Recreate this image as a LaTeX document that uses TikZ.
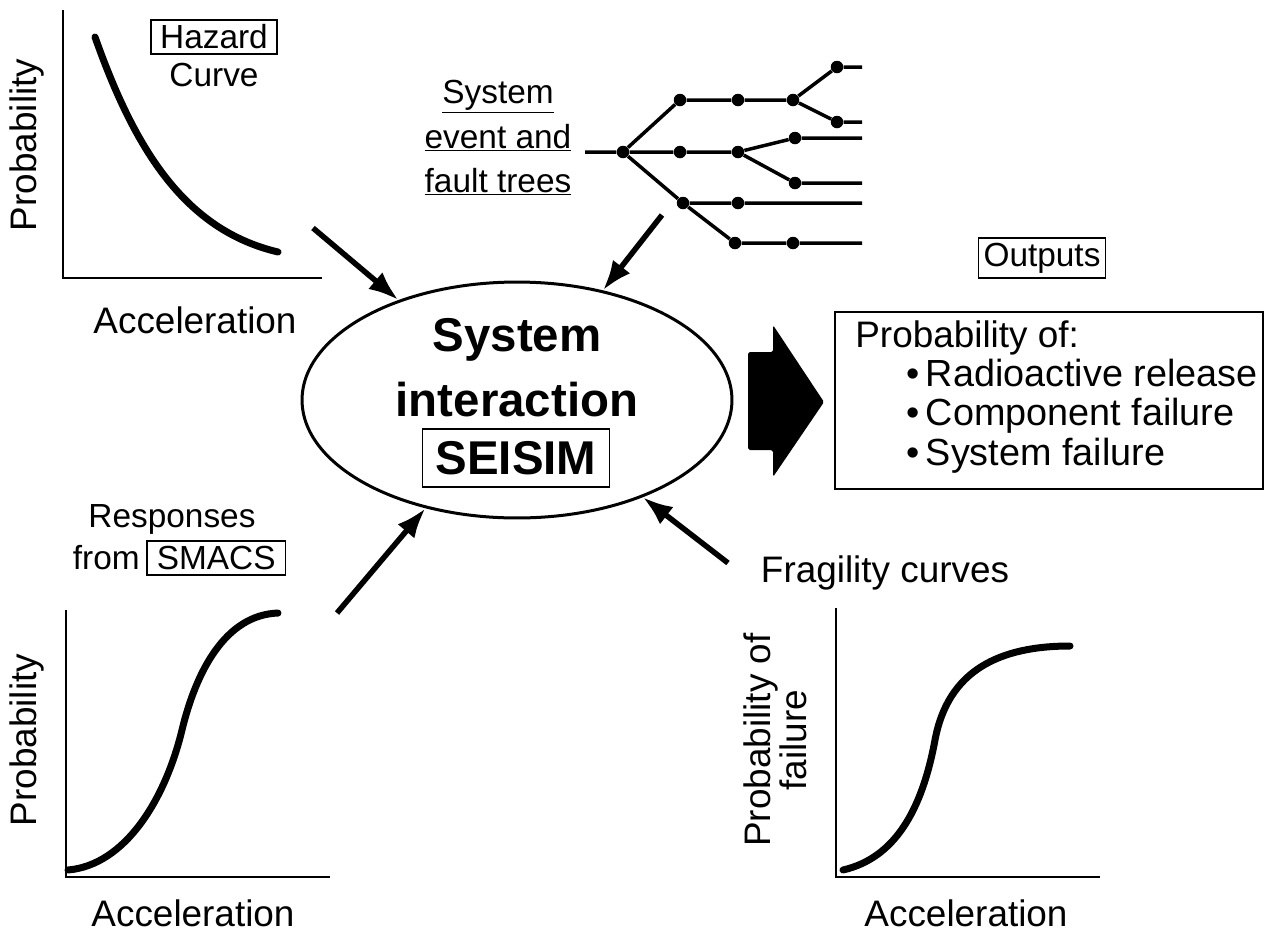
\documentclass[tikz,border=0pt]{standalone}
\usepackage{fontspec}
\setmainfont{Liberation Sans}
\usetikzlibrary{arrows.meta, positioning, shapes.geometric}

\begin{document}
\begin{tikzpicture}[
  x=0.02cm, y=-0.02cm,
  axis/.style={line width=0.04cm},
  curve/.style={line width=0.14cm, line cap=round},
  branch/.style={line width=0.07cm},
  dot/.style={circle, fill=black, inner sep=0pt, minimum size=0.25cm},
  arr/.style={-{Latex[length=0.6cm, width=0.44cm]}, line width=0.11cm},
  lbl/.style={font=\fontsize{21}{25}\selectfont, inner sep=0pt},
  note/.style={font=\fontsize{19}{22}\selectfont, inner sep=0pt},
  tag/.style={draw, line width=0.035cm, font=\fontsize{19}{22}\selectfont,
              inner xsep=0.18cm, inner ysep=0.12cm},
  big/.style={font=\fontsize{27}{32}\selectfont\bfseries, inner sep=0pt}
]
  \useasboundingbox (0,0) rectangle (1265,934);

  % Hazard curve
  \draw[axis] (63,10) -- (63,278) -- (322,278);
  \draw[curve] (95,37) .. controls (135,150) and (185,230) .. (278,252);
  \node[lbl, rotate=90] (hzy) at (27,145) {Probability};
  \node[lbl] (hzx) at (195,320) {Acceleration};
  \node[tag, inner ysep=0.1cm] (hazard) at (214,37) {Hazard};
  \node[note, below=0.15cm of hazard] (hzcurve) {Curve};

  % System interaction
  \node[draw, ellipse, line width=0.06cm, minimum width=8.6cm,
        minimum height=4.72cm, inner sep=0pt] (sim) at (517,400) {};
  \node[big] (simtop) at (517,340) {System};
  \node[big] (siminter) at (517,400) {interaction};
  \node[tag, big, inner xsep=0.26cm, inner ysep=0.24cm] (seisim) at (516,458) {SEISIM};

  % Event and fault trees
  \node[note, anchor=base] (ev1) at (498,103) {\underline{System}};
  \node[note, anchor=base] (ev2) at (498,148) {\underline{event and}};
  \node[note, anchor=base] (ev3) at (498,192) {\underline{fault trees}};
  \coordinate (tin) at (585,152);
  \node[dot] (t0) at (623,152) {};
  \node[dot] (a1) at (680,100) {};
  \node[dot] (a2) at (738,100) {};
  \node[dot] (a3) at (793,100) {};
  \node[dot] (a4) at (837,67) {};
  \node[dot] (a5) at (837,122) {};
  \node[dot] (b1) at (680,152) {};
  \node[dot] (b2) at (738,152) {};
  \node[dot] (b3) at (795,138) {};
  \node[dot] (b4) at (795,183) {};
  \node[dot] (c1) at (683,203) {};
  \node[dot] (c2) at (738,203) {};
  \node[dot] (d1) at (735,243) {};
  \node[dot] (d2) at (793,243) {};
  \coordinate (e1) at (862,67);
  \coordinate (e2) at (862,122);
  \coordinate (e3) at (862,138);
  \coordinate (e4) at (862,183);
  \coordinate (e5) at (862,203);
  \coordinate (e6) at (862,243);
  \draw[branch] (tin) -- (t0) -- (b1) -- (b2) -- (b3) -- (e3);
  \draw[branch] (b2) -- (b4) -- (e4);
  \draw[branch] (t0) -- (a1) -- (a2) -- (a3) -- (a4) -- (e1);
  \draw[branch] (a3) -- (a5) -- (e2);
  \draw[branch] (t0) -- (c1) -- (c2) -- (e5);
  \draw[branch] (c1) -- (d1) -- (d2) -- (e6);

  % Inputs into the ellipse
  \coordinate (hzend) at (313,228);
  \coordinate (treeend) at (662,215);
  \coordinate (rspend) at (337,613);
  \coordinate (frgend) at (728,563);
  \draw[arr] (hzend) -- (sim);
  \draw[arr] (treeend) -- (sim);
  \draw[arr] (rspend) -- (sim);
  \draw[arr] (frgend) -- (sim);

  % Block arrow to outputs
  \fill[rounded corners=1pt] (748,352) -- (773,352) -- (773,325) -- (824,402)
    -- (773,477) -- (773,450) -- (748,450) -- cycle;

  % Outputs
  \node[draw, line width=0.045cm, minimum width=8.56cm, minimum height=3.54cm,
        inner sep=0pt] (outs) at (1049,400.5) {};
  \node[tag, inner xsep=0.1cm, inner ysep=0.1cm, above=0.64cm of outs, xshift=-0.14cm] (outlbl) {Outputs};
  \node[lbl, anchor=base west] (outhead) at (855,347) {Probability of:};
  \node[lbl, anchor=base west, font=\fontsize{21.5}{25}\selectfont] (out1) at (906,386) {\textbullet\,Radioactive release};
  \node[lbl, anchor=base west, font=\fontsize{21.5}{25}\selectfont] (out2) at (906,425) {\textbullet\,Component failure};
  \node[lbl, anchor=base west, font=\fontsize{21.5}{25}\selectfont] (out3) at (906,465) {\textbullet\,System failure};

  % Responses
  \draw[axis] (66,610) -- (66,877) -- (330,877);
  \draw[curve] (68,870) .. controls (125,865) and (165,800) .. (182,730)
    .. controls (196,672) and (225,615) .. (278,613);
  \node[lbl, rotate=90] (rsy) at (27,740) {Probability};
  \node[lbl] (rsx) at (193,913) {Acceleration};
  \node[note] (resp) at (172,519) {Responses};
  \node[note, anchor=east] (from) at (140,558) {from};
  \node[tag, inner xsep=0.2cm, inner ysep=0.1cm, right=0.12cm of from] (smacs) {SMACS};

  % Fragility curves
  \draw[axis] (836,608) -- (836,877) -- (1100,877);
  \draw[curve] (843,870) .. controls (895,858) and (922,810) .. (935,740)
    .. controls (948,670) and (1000,646) .. (1070,646);
  \node[lbl, rotate=90, align=center, font=\fontsize{21}{20.5}\selectfont] (fry) at (775,740) {Probability of\\failure};
  \node[lbl] (frx) at (966,913) {Acceleration};
  \node[lbl] (frag) at (885,573) {Fragility curves};
\end{tikzpicture}
\end{document}
